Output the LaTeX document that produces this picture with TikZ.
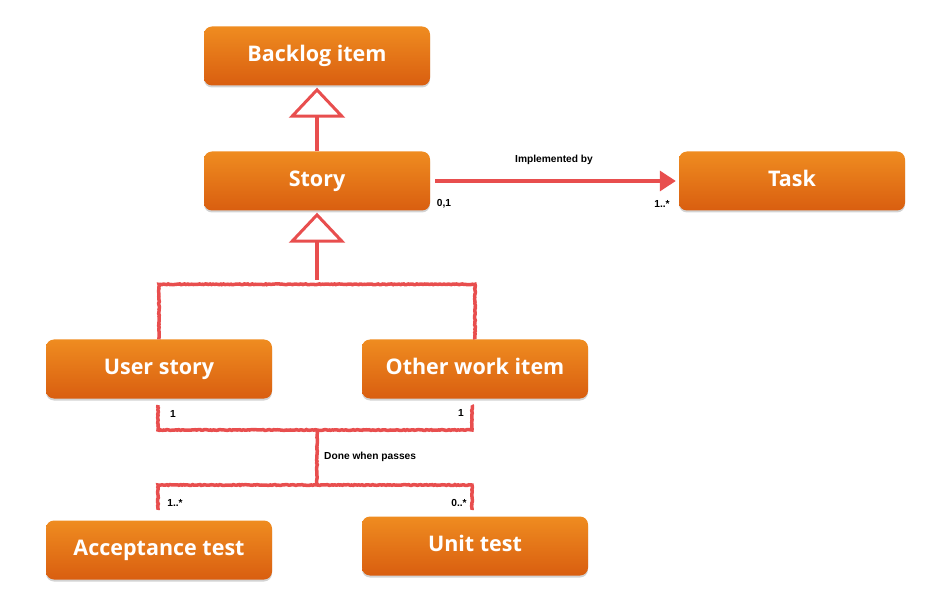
\documentclass[tikz,border=0pt]{standalone}
\usepackage{fontspec}
\setmainfont{Open Sans}
\newfontfamily\labelfont{Liberation Sans}
\usetikzlibrary{arrows.meta,shadows,decorations.pathmorphing}
\definecolor{boxtop}{HTML}{EF8C20}
\definecolor{boxbottom}{HTML}{D95E10}
\definecolor{linkred}{HTML}{E84E4E}
\begin{document}
\begin{tikzpicture}[x=1pt,y=-1pt,
  itembox/.style={rectangle,rounded corners=8pt,minimum width=226pt,minimum height=59pt,
    text height=15pt,text depth=4pt,
    top color=boxtop,bottom color=boxbottom,text=white,font=\bfseries\fontsize{21.5}{24}\selectfont,
    drop shadow={opacity=0.35,shadow xshift=0pt,shadow yshift=-2pt}},
  rel/.style={draw=linkred,line width=3.5pt,
    decorate,decoration={random steps,segment length=1.5pt,amplitude=0.4pt}},
  inherit/.style={-{Triangle[fill=white,length=30pt,width=56pt,line width=3pt]}},
  mult/.style={font=\labelfont\bfseries\fontsize{10.2}{12}\selectfont,text=black,inner sep=0pt}]
\useasboundingbox (0,0) rectangle (934,609);

\node[itembox] (backlog) at (317,56) {Backlog item};
\node[itembox] (story) at (317,181) {Story};
\node[itembox] (task) at (792,181) {Task};
\node[itembox] (userstory) at (159,369) {User story};
\node[itembox] (otherwork) at (475,369) {Other work item};
\node[itembox] (acctest) at (159,550) {Acceptance test};
\node[itembox] (unittest) at (475,546) {Unit test};

% generalisation
\draw[rel,decorate=false,inherit] (story.north) -- ([yshift=-2pt]backlog.south);
\coordinate (split) at (317,280);
\draw[rel,decorate=false,inherit] (split) -- ([yshift=-2pt]story.south);
\draw[rel] (userstory.north) -- ++(0,-55) -| (otherwork.north);

% implemented by
\draw[rel,decorate=false,-{Triangle[length=16pt,width=20pt]}] (story.east) ++(5,0) -- ([xshift=-3pt]task.west);
\node[mult] (implby) at (554,160) {Implemented by};
\node[mult] (m01) at (444,204) {0,1};
\node[mult] (m1n) at (662,204) {1..*};

% done when passes
\coordinate (usb) at (158,405);
\coordinate (owb) at (472,405);
\coordinate (atb) at (158,510);
\coordinate (utb) at (472,510);
\coordinate (mid1) at (317,430);
\coordinate (mid2) at (317,485);
\draw[rel] (usb) |- (mid1) -| (owb);
\draw[rel] (mid1) -- (mid2);
\draw[rel] (atb) |- (mid2) -| (utb);
\node[mult,anchor=west] (done) at (324,457) {Done when passes};
\node[mult] (mus) at (173,414) {1};
\node[mult] (mow) at (461,413) {1};
\node[mult] (mat) at (175,503) {1..*};
\node[mult] (mut) at (459,503) {0..*};
\end{tikzpicture}
\end{document}
